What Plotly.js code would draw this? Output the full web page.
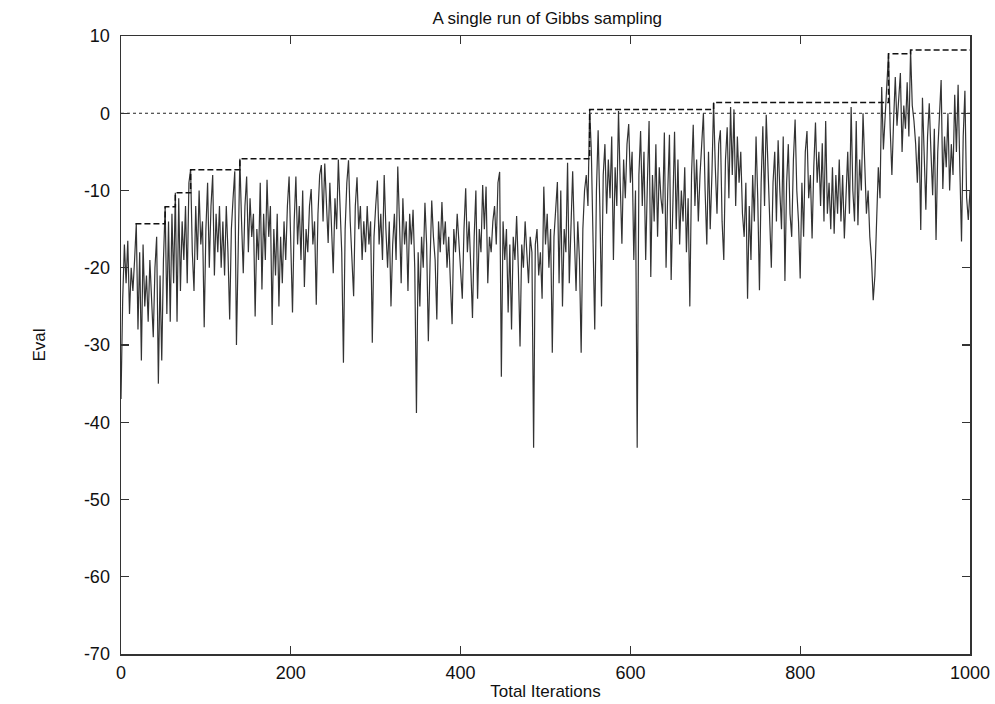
<!DOCTYPE html>
<html>
<head>
<meta charset="utf-8">
<script src="https://cdn.plot.ly/plotly-3.0.1.min.js"></script>
<style>html,body{margin:0;padding:0;background:#fff;}#chart{width:995px;height:704px;}</style>
</head>
<body>
<div id="chart"></div>
<script>
// Iteration numbers sampled every 2 iterations
const iterStep = 2;
const evalValues = [
-37,-24,-17,-22,-16.5,-26,-20,-23,-19,-14.3,
-28,-18,-32,-17,-25,-21,-27,-19,-24,-29,
-20,-16,-35,-21,-32,-19,-12.1,-26,-14,-27,
-13,-22,-10.3,-27,-11,-23,-14,-19,-12,-22,
-9,-7.3,-18,-23,-12,-19,-10,-17,-14,-27.7,
-15,-9,-20,-12,-8,-21,-13,-18,-12,-20,
-14,-21,-12,-18,-26.7,-15,-11,-7.5,-30,-16,
-5.9,-14,-20.7,-12,-8.2,-18,-11,-16,-13,-26.3,
-15,-19,-9,-22.8,-13,-19,-8.6,-16,-12,-27.4,
-15,-21,-13,-25,-16,-22,-14,-19,-12,-8.2,
-18,-25.8,-14,-8.2,-17,-12,-19,-10,-22.5,-15,
-18,-12,-9.8,-17,-14,-24.8,-13,-8,-6.7,-14,
-6.5,-12,-16.8,-9,-14,-20.7,-11,-15,-6.0,-13,
-18,-32.3,-15,-9,-6.1,-14,-19,-23.7,-12,-8.3,
-15,-12,-19,-14,-18,-12,-17,-14,-29.7,-16,
-12,-8.7,-17,-13,-19,-8,-15,-20,-14,-25,
-17,-13,-19,-6.9,-14,-22,-11,-17,-14,-23,
-13,-17,-12.5,-20,-38.8,-18,-25,-16,-20,-11.6,
-17,-29.5,-19.4,-11.3,-16,-19,-26.7,-14,-18,-11.5,
-17,-14,-20,-16,-22,-27.3,-15,-18,-13,-17,
-20,-24,-15,-9.7,-18,-14,-20,-26.5,-16,-10,
-24,-15,-18,-9.3,-15,-9.5,-22,-16,-18,-14,
-12,-17,-9,-7.6,-34.1,-14,-19,-15,-25.8,-17,
-28,-16,-19,-13.3,-20,-30.2,-17,-20,-14,-19,
-22,-16,-18,-43.3,-17,-15,-21,-18,-24,-9.5,
-17,-13,-20,-15,-31,-16,-12,-8.9,-22,-10,
-25,-15,-18,-6.4,-22,-13,-7.5,-16,-23,-14,
-19,-31,-15,-10,-8,-12,0.5,-5,-15,-28,
-10,-2.2,-12,-25,-8,-4,-13,-6,-11,-3,
-19,-7,-12,0.3,-9,-16.9,-6,-11,-4,-1.4,
-9,-5,-19,-10,-43.3,-8,-2.3,-12,-5,-19,
-9,-1,-21.2,-8,-14,-4,-16,-7,-11,-13,
-2.5,-20,-10,-2.8,-21.6,-12,-2.4,-15,-6,-17,
-10,-14,-7,-18,-11,-25,-8,-1.5,-12,-6,
-14,-8,-3.5,0,-10,-17,-5,-15,-8,1.4,
-7,-13,-4,-2.2,-14,-19,-6,-1.8,-11,0.8,
-8,0.5,-12,-3,-9,-5,-13,-16,-9,-24,
-12,-19,-8,-14,-3,-11,-22.9,-9,-1.7,-12,
-0.2,-7,-13,-20,-9,-5,-14,-3.5,-10,-15,
-3,-21.7,-9,-4,-13,-16,-6,-0.8,-10,-14,
-21.4,-9,-16,-5,-2.3,-11,-8,-16.2,-7,-1.2,
-9,-5,-12,-3.9,-14,-1,-13,-9,-15,-7,
-15.6,-8,-13,-6,-14,-8,-16.2,-9,-5,-13,
0.8,-10,-14,-1,-14.5,-6,-10,0,-8.2,-13,
-10,-16,-19,-24.2,-21,-13,-7,-11,3.4,-4.7,
-1,3,7.7,-2,-8,-1,4.7,-1.6,2,5.2,
-5,1,-2,4,-3,8.2,1,-1,-4,-9,
-3,-15.1,2,-6,-12.5,-3,1.3,-5,-10.6,-2,
-16.4,-5,-1,4.3,-9.8,-3,-7,0,-10,-4,
-8,2.4,-5,3.7,-7,-16.6,-3,2.9,-10.9,-13.8,
-10
];
const iterations = evalValues.map((_, i) => i * iterStep);

// Best-so-far (dashed step line)
const bestIter = [17, 52, 64, 82, 140, 552, 698, 904, 930, 1000];
const bestVal  = [-14.3, -12.1, -10.3, -7.3, -5.9, 0.5, 1.4, 7.7, 8.2, 8.2];

// Reference line at zero (dotted)
const zeroX = [0, 1000];
const zeroY = [0, 0];

const xTicks = [0, 200, 400, 600, 800, 1000];
const yTicks = [10, 0, -10, -20, -30, -40, -50, -60, -70];

const font = 'Liberation Sans, Arial, Helvetica, sans-serif';

const traces = [
  {x: zeroX, y: zeroY, mode: 'lines', line: {color: '#222', width: 1, dash: 'dot'}, hoverinfo: 'skip'},
  {x: iterations, y: evalValues, mode: 'lines', line: {color: '#333', width: 1.2}},
  {x: bestIter, y: bestVal, mode: 'lines', line: {color: '#111', width: 1.5, dash: '6px,3px', shape: 'hv'}}
];

const axisCommon = {
  showline: true, linecolor: '#333', linewidth: 1.5, mirror: 'ticks',
  ticks: 'inside', ticklen: 8, tickwidth: 1.2, tickcolor: '#333',
  showgrid: false, zeroline: false,
  tickfont: {family: font, size: 18, color: '#111'}
};

const layout = {
  width: 995, height: 704,
  margin: {l: 121, r: 25, t: 36, b: 50},
  paper_bgcolor: '#fff', plot_bgcolor: '#fff',
  showlegend: false,
  title: {text: 'A single run of Gibbs sampling', font: {family: font, size: 17, color: '#111'}, x: 0.55, xanchor: 'center', y: 0.975, yanchor: 'middle'},
  xaxis: Object.assign({}, axisCommon, {
    range: [0, 1000], tickvals: xTicks, ticktext: xTicks.map(String),
    ticklabelstandoff: 2,
    title: {text: 'Total Iterations', font: {family: font, size: 17, color: '#111'}, standoff: 3}
  }),
  yaxis: Object.assign({}, axisCommon, {
    range: [-70, 10], tickvals: yTicks, ticktext: yTicks.map(String),
    ticklabelstandoff: 6,
    title: {text: 'Eval', font: {family: font, size: 17, color: '#111'}, standoff: 34}
  })
};

Plotly.newPlot('chart', traces, layout, {displayModeBar: false, staticPlot: true});
</script>
</body>
</html>
